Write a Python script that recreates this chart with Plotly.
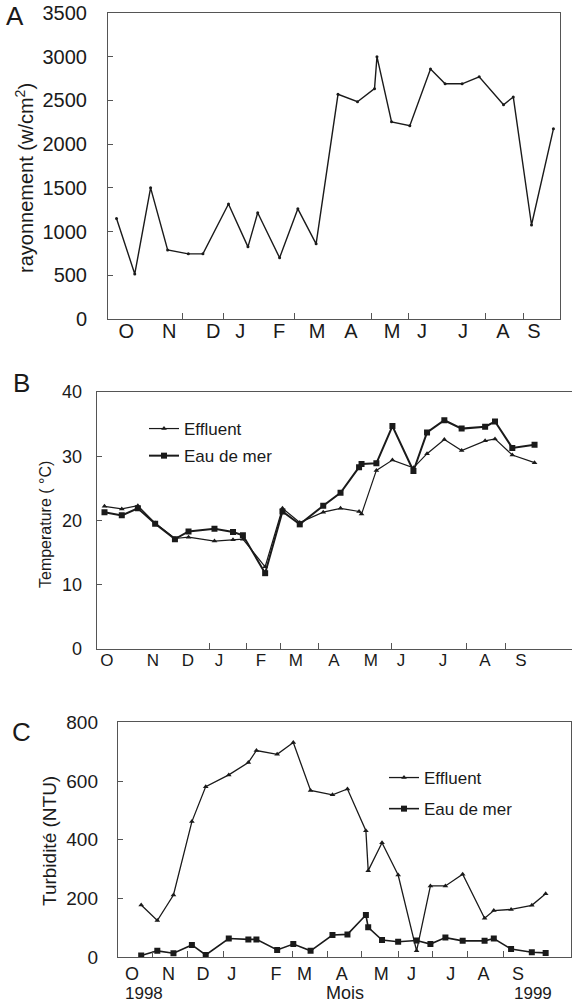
import plotly.graph_objects as go

# ---------------- data ----------------
months = ["O", "N", "D", "J", "F", "M", "A", "M", "J", "J", "A", "S"]

# Panel A : rayonnement (w/cm2); x = days since 1 Oct 1998
A_days = [7, 22, 35, 49, 66, 78, 99, 115, 123, 141, 156, 171, 189, 205, 219, 221,
          233, 248, 265, 277, 291, 305, 325, 333, 348, 366]
A_ray = [1150, 515, 1500, 790, 745, 745, 1315, 825, 1215, 700, 1260, 860, 2570, 2485,
         2635, 3000, 2255, 2210, 2860, 2690, 2690, 2770, 2450, 2540, 1075, 2175]
A_month_pos = [15, 50.3, 86.4, 108.6, 140.6, 171.8, 199.7, 233.4, 258, 291.7, 324.6, 350]
A_bound = [61, 94.6, 153, 216.2, 246.6, 309.8, 341.8]

# Panel B : temperature (°C)
B_days = [13, 27, 40, 54, 70, 81, 102, 117, 125, 143, 157, 171, 190, 204, 219, 221,
          233, 246, 263, 274, 288, 302, 321, 329, 343, 361]
B_eff = [22.2, 21.8, 22.3, 19.6, 17.2, 17.4, 16.8, 17.0, 17.1, 12.8, 21.9, 19.7, 21.3,
         21.9, 21.4, 21.0, 27.8, 29.4, 28.2, 30.4, 32.6, 30.9, 32.4, 32.7, 30.2, 29.0]
B_mer = [21.3, 20.8, 21.9, 19.5, 17.1, 18.3, 18.7, 18.2, 17.7, 11.8, 21.4, 19.4, 22.3,
         24.3, 28.3, 28.8, 28.9, 34.7, 27.7, 33.7, 35.6, 34.3, 34.6, 35.4, 31.3, 31.8]
B_month_pos = [15, 52.2, 80.5, 105.6, 139.6, 167.8, 198.7, 228.6, 252.9, 286.9, 320.9, 350]
B_bound = [98.3, 128.3, 155.8, 186.2, 245.6, 306.3, 337.1]

# Panel C : turbidité (NTU)
C_days = [23, 37, 51, 67, 79, 99, 116, 123, 141, 155, 170, 189, 202, 218, 220, 232,
          246, 262, 274, 287, 302, 321, 329, 344, 362, 374]
C_eff = [178, 125, 212, 462, 581, 621, 663, 704, 691, 731, 568, 553, 573, 431, 295, 390,
         280, 22, 243, 243, 283, 133, 159, 163, 177, 216]
C_mer = [6, 22, 14, 42, 8, 64, 61, 61, 25, 45, 22, 76, 78, 144, 102, 59, 53, 57, 45, 67,
         56, 56, 64, 28, 17, 15]
C_month_pos = [15, 46.7, 76.6, 101.5, 139.9, 164.8, 197.1, 231.3, 257.6, 291.6, 320, 350]
C_bound = [33.2, 63.6, 94, 153.9, 184.3, 213.8, 245.9, 275.4, 306.6, 337]

# ---------------- figure ----------------
W, H = 572, 1003
FONT = "Liberation Sans, Arial, Helvetica, sans-serif"
INK = "#1a1a1a"
AX = "#555555"


def px(x):
    return x / W


def py(y):
    return 1 - y / H


fig = go.Figure()

# Panel A
fig.add_trace(go.Scatter(x=A_days, y=A_ray, mode="lines+markers", showlegend=False,
                         line=dict(color=INK, width=1.4),
                         marker=dict(symbol="circle", size=3, color=INK),
                         xaxis="x", yaxis="y"))
# Panel B
fig.add_trace(go.Scatter(x=B_days, y=B_eff, mode="lines+markers", name="Effluent",
                         legendgroup="be",
                         line=dict(color=INK, width=1.2),
                         marker=dict(symbol="triangle-up", size=5, color=INK),
                         xaxis="x2", yaxis="y2", legend="legend"))
fig.add_trace(go.Scatter(x=B_days, y=B_mer, mode="lines+markers", name="Eau de mer",
                         legendgroup="bm",
                         line=dict(color=INK, width=2),
                         marker=dict(symbol="square", size=6, color=INK),
                         xaxis="x2", yaxis="y2", legend="legend"))
# Panel C
fig.add_trace(go.Scatter(x=C_days, y=C_eff, mode="lines+markers", name="Effluent",
                         legendgroup="ce",
                         line=dict(color=INK, width=1.3),
                         marker=dict(symbol="triangle-up", size=5, color=INK),
                         xaxis="x3", yaxis="y3", legend="legend2"))
fig.add_trace(go.Scatter(x=C_days, y=C_mer, mode="lines+markers", name="Eau de mer",
                         legendgroup="cm",
                         line=dict(color=INK, width=1.6),
                         marker=dict(symbol="square", size=6, color=INK),
                         xaxis="x3", yaxis="y3", legend="legend2"))

# invisible traces to activate the boundary-tick overlay axes
for xa, ya, d in (("x4", "y", A_days), ("x5", "y2", B_days), ("x6", "y3", C_days)):
    fig.add_trace(go.Scatter(x=d[:1], y=[None], mode="lines", showlegend=False,
                             hoverinfo="skip", xaxis=xa, yaxis=ya))

xA = [0, 371.4]
xB = [6.7, 391.3]
xC = [2.7, 396]

common_x = dict(showgrid=False, zeroline=False, showline=True, linecolor=AX, linewidth=1,
                mirror=True, ticks="", automargin=False)
common_y = dict(showgrid=False, zeroline=False, showline=True, linecolor=AX, linewidth=1,
                ticks="inside", ticklen=5, tickcolor=AX, automargin=False)
overlay = dict(showline=False, showgrid=False, zeroline=False, showticklabels=False,
               tickmode="array", ticks="inside", ticklen=6, tickcolor=AX,
               automargin=False)

fig.update_layout(
    width=W, height=H, margin=dict(l=0, r=0, t=0, b=0, pad=0),
    paper_bgcolor="white", plot_bgcolor="white",
    font=dict(family=FONT, color=INK),
    xaxis=dict(common_x, domain=[px(108), px(560)], range=xA, anchor="y",
               tickmode="array", tickvals=A_month_pos, ticktext=months,
               tickfont=dict(size=20), ticklabelstandoff=-6),
    yaxis=dict(common_y, domain=[py(319), py(13)], range=[0, 3500], anchor="x",
               tickvals=list(range(0, 3501, 500)), mirror=True,
               tickfont=dict(size=20), ticklabelstandoff=16),
    xaxis4=dict(overlay, overlaying="x", anchor="y", range=xA, tickvals=A_bound),
    xaxis2=dict(common_x, domain=[px(96.7), 1.0], range=xB, anchor="y2",
                tickmode="array", tickvals=B_month_pos, ticktext=months,
                tickfont=dict(size=17), ticklabelstandoff=-4),
    yaxis2=dict(common_y, domain=[py(649), py(392)], range=[0, 40], anchor="x2",
                tickvals=[0, 10, 20, 30, 40], mirror=False,
                tickfont=dict(size=18), ticklabelstandoff=10),
    xaxis5=dict(overlay, overlaying="x2", anchor="y2", range=xB, tickvals=B_bound),
    xaxis3=dict(common_x, domain=[px(117.8), px(571)], range=xC, anchor="y3",
                tickmode="array", tickvals=C_month_pos, ticktext=months,
                tickfont=dict(size=18), ticklabelstandoff=0),
    yaxis3=dict(common_y, domain=[py(957.3), py(722.3)], range=[0, 800], anchor="x3",
                tickvals=[0, 200, 400, 600, 800], mirror=True,
                tickfont=dict(size=19), ticklabelstandoff=15),
    xaxis6=dict(overlay, overlaying="x3", anchor="y3", range=xC, tickvals=C_bound),
    legend=dict(x=px(144), y=py(411), xanchor="left", yanchor="top",
                bgcolor="rgba(0,0,0,0)", font=dict(size=17, family=FONT),
                tracegroupgap=2, itemwidth=30),
    legend2=dict(x=px(384), y=py(760), xanchor="left", yanchor="top",
                 bgcolor="rgba(0,0,0,0)", font=dict(size=17, family=FONT),
                 tracegroupgap=6, itemwidth=30),
    showlegend=True,
)

ann = [
    dict(text="A", x=px(15), y=py(16), font=dict(size=26)),
    dict(text="B", x=px(21), y=py(383), font=dict(size=26)),
    dict(text="C", x=px(21), y=py(732), font=dict(size=26)),
    dict(text="rayonnement (w/cm<sup>2</sup>)", x=px(24), y=py(178), textangle=-90,
         font=dict(size=20)),
    dict(text="Temperature ( °C)", x=px(45), y=py(185 + 340), textangle=-90,
         font=dict(size=16)),
    dict(text="Turbidité (NTU)", x=px(49), y=py(841), textangle=-90,
         font=dict(size=19)),
    dict(text="1998", x=px(144), y=py(993), font=dict(size=17)),
    dict(text="Mois", x=px(345), y=py(993), font=dict(size=18)),
    dict(text="1999", x=px(533), y=py(993), font=dict(size=17)),
]
for a in ann:
    a.update(xref="paper", yref="paper", showarrow=False, xanchor="center",
             yanchor="middle")
    a["font"].update(family=FONT, color=INK)
fig.update_layout(annotations=ann)

fig.write_html("out.html",
               config={"displayModeBar": False},
               post_script="document.body.style.margin='0';"
                           "document.body.style.padding='0';"
                           "document.body.style.overflow='hidden';")
